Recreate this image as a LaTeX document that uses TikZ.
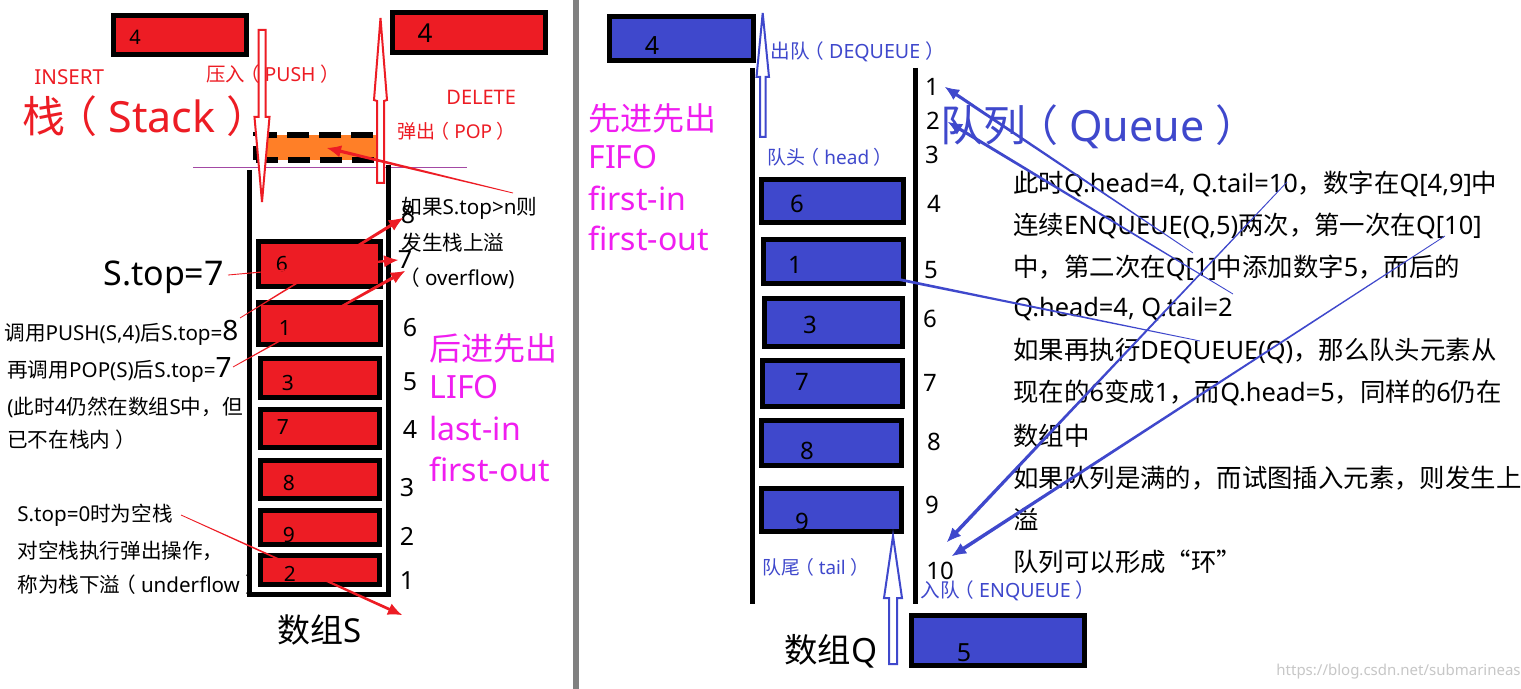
\documentclass[tikz,border=0pt]{standalone}
\usepackage{fontspec}
\usetikzlibrary{arrows.meta,calc}
\setmainfont{Noto Sans}
\newfontfamily\cjk{Noto Sans CJK SC}
\XeTeXinterchartokenstate=1
\newXeTeXintercharclass\CJKcls
\newcount\mycc
\newcommand\mysetcls[2]{\mycc=#1\relax\loop\ifnum\mycc<#2\relax\XeTeXcharclass\mycc=\CJKcls\advance\mycc by 1\repeat}
\mysetcls{"4E00}{"A000}
\mysetcls{"3000}{"3040}
\mysetcls{"FF00}{"FFF0}
\XeTeXcharclass"201C=\CJKcls
\XeTeXcharclass"201D=\CJKcls
\XeTeXinterchartoks 0 \CJKcls = {\begingroup\cjk}
\XeTeXinterchartoks 4095 \CJKcls = {\begingroup\cjk}
\XeTeXinterchartoks \CJKcls 0 = {\endgroup}
\XeTeXinterchartoks \CJKcls 4095 = {\endgroup}
\newcommand\myfs[1]{\fontsize{#1}{#1}\selectfont}
% full-width parentheses with the glyph centred in its em, as in the reference
\newcommand\LP{\kern-.25em（\kern.25em}
\newcommand\RP{\kern.25em）\kern-.25em}
\definecolor{sred}{RGB}{237,28,36}
\definecolor{sorange}{RGB}{255,127,39}
\definecolor{qblue}{RGB}{63,72,204}
\definecolor{mag}{RGB}{240,30,240}
\definecolor{purp}{RGB}{163,73,164}
\definecolor{sepgray}{RGB}{128,128,128}
% tapered arrow: #1 colour, #2 tail, #3 tip, #4 half width near tip
\newcommand\mytaper[4]{%
  \coordinate (tmpE) at ($(#3)!6pt!(#2)$);
  \fill[#1] ($(#2)!0.2pt!90:(#3)$) -- ($(tmpE)!#4!-90:(#2)$) -- ($(tmpE)!#4!90:(#2)$) -- ($(#2)!0.2pt!-90:(#3)$) -- cycle;
  \draw[#1, line width=0.4pt, -{Latex[length=7pt,width=6pt]}] (tmpE) -- (#3);}
\begin{document}
\begin{tikzpicture}[x=0.5pt,y=-0.5pt,
  t/.style={inner sep=0pt, anchor=west},
  tc/.style={inner sep=0pt, anchor=center},
  redbox/.style={draw=black, line width=2.5pt, fill=sred},
  bluebox/.style={draw=black, line width=2.5pt, fill=qblue},
  wall/.style={draw=black, line width=2.5pt},
  hollowred/.style={draw=sred, line width=1pt, fill=white},
  hollowblue/.style={draw=qblue, line width=1pt, fill=white},
  note/.style={t, font=\myfs{10.3}},
  rnote/.style={t, font=\myfs{12.7}},
  lidx/.style={tc, font=\myfs{12.5}},
  ridx/.style={tc, font=\myfs{12}},
  sdig/.style={tc, font=\myfs{10.5}},
  qdig/.style={tc, font=\myfs{12}},
  magt/.style={t, text=mag, font=\myfs{16}},
]
\useasboundingbox (0,0) rectangle (1521,689);
\fill[white] (0,0) rectangle (1521,689);
% separator
\draw[sepgray, line width=3pt] (576,0) -- (576,689);

%%%%%%%%%%%% LEFT: STACK %%%%%%%%%%%%
\draw[redbox] (113.5,15.5) rectangle (246.5,54.5);
\node[tc, font=\myfs{10}] (lin4) at (135,37) {4};
\draw[redbox] (392.5,12.5) rectangle (545.5,52.5);
\node[tc, font=\myfs{13}] (lout4) at (425,33) {4};

\node[t, text=sred, font=\myfs{10.3}] (insert) at (34,77) {INSERT};
\node[t, text=sred, font=\myfs{9.7}] (push) at (206,74) {压入\LP PUSH\RP};
\node[t, text=sred, font=\myfs{21.5}] (stack) at (22,116) {栈\LP Stack\RP};
\node[t, text=sred, font=\myfs{10}] (delete) at (446,97) {DELETE};
\node[t, text=sred, font=\myfs{9.5}] (pop) at (397,131) {弹出\LP POP\RP};

\node[draw=black, line width=3pt, dash pattern=on 11pt off 5pt, fill=sorange,
      minimum width=63pt, minimum height=12.5pt, inner sep=0pt] (slot) at (319,147.5) {};
\draw[purp, line width=0.5pt] (193,168) -- (467,168);

\draw[hollowred] (258.5,30) -- (265.5,30) -- (265.5,117) -- (269.5,117) -- (262,202) -- (254.5,117) -- (258.5,117) -- cycle;
\draw[hollowred] (377,183) -- (384,183) -- (384,101) -- (387,100) -- (380.5,18) -- (374,100) -- (377,101) -- cycle;

\draw[wall] (249,170) -- (249,594.5) -- (388,594.5) -- (388,165);

\draw[redbox] (258.5,241.5) rectangle (380.5,286.5);
\draw[redbox] (258.5,302.5) rectangle (380.5,344.5);
\draw[redbox] (260.5,358.5) rectangle (379.5,397.5);
\draw[redbox] (260.5,409.5) rectangle (379.5,447.5);
\draw[redbox] (260.5,460.5) rectangle (379.5,498.5);
\draw[redbox] (260.5,510.5) rectangle (379.5,544.5);
\draw[redbox] (260.5,555.5) rectangle (379.5,584.5);
\node[sdig] (s6) at (282,264) {6};
\node[sdig] (s1) at (285,328) {1};
\node[sdig] (s3) at (288,383) {3};
\node[sdig] (s7) at (283,427) {7};
\node[sdig] (s8) at (289,483) {8};
\node[sdig] (s9) at (289,535) {9};
\node[sdig] (s2) at (290,574) {2};

\node[lidx] (li8) at (408,215) {8};
\node[lidx] (li7) at (405,260) {7};
\node[lidx] (li6) at (410,328) {6};
\node[lidx] (li5) at (410,382) {5};
\node[lidx] (li4) at (410,430) {4};
\node[lidx] (li3) at (407,488) {3};
\node[lidx] (li2) at (407,536) {2};
\node[lidx] (li1) at (407,581) {1};

\node[note] (ovf1) at (401,208) {如果S.top>n则};
\node[note] (ovf2) at (401,243) {发生栈上溢};
\node[note] (ovf3) at (404,278) {\LP overflow)};

\node[t, font=\myfs{17}] (stop7) at (103,277) {S.top=7};
\node[note] (push8) at (4,333) {调用PUSH(S,4)后S.top={\myfs{14}8}};
\node[note] (pop7) at (7,370) {再调用POP(S)后S.top={\myfs{14}7}};
\node[note] (still1) at (7,407) {(此时4仍然在数组S中，但};
\node[note] (still2) at (7,440) {已不在栈内\RP};
\node[note] (under1) at (17,515) {S.top=0时为空栈};
\node[note] (under2) at (17,551) {对空栈执行弹出操作，};
\node[note] (under3) at (17,585) {称为栈下溢\LP underflow\RP};
\node[tc, font=\myfs{16.5}] (arrS) at (320,630) {数组S};

\node[magt] (lifo1) at (429,348) {后进先出};
\node[magt] (lifo2) at (429,387) {LIFO};
\node[magt] (lifo3) at (429,429) {last-in};
\node[magt] (lifo4) at (429,469) {first-out};

%%%%%%%%%%%% RIGHT: QUEUE %%%%%%%%%%%%
\draw[bluebox] (609.5,16.5) rectangle (753.5,60.5);
\node[qdig, font=\myfs{12.5}] (rq4) at (652,46) {4};
\draw[hollowblue] (760,137) -- (765.5,137) -- (765.5,77) -- (769,77) -- (762.7,13) -- (756.5,77) -- (760,77) -- cycle;
\node[t, text=qblue, font=\myfs{9.8}] (deq) at (770,52) {出队\LP DEQUEUE\RP};

\draw[wall] (752,68) -- (752,604);
\draw[wall] (915,68) -- (915,604);
\node[t, text=qblue, font=\myfs{9.5}] (qhead) at (767,157) {队头\LP head\RP};

\draw[bluebox] (761.5,179.5) rectangle (903.5,222.5);
\draw[bluebox] (763.5,239.5) rectangle (903.5,283.5);
\draw[bluebox] (764.5,298.5) rectangle (902.5,346.5);
\draw[bluebox] (762.5,360.5) rectangle (902.5,406.5);
\draw[bluebox] (761.5,420.5) rectangle (901.5,465.5);
\draw[bluebox] (761.5,488.5) rectangle (901.5,531.5);
\node[qdig] (q6) at (797,204) {6};
\node[qdig] (q1) at (795,265) {1};
\node[qdig] (q3) at (810,325) {3};
\node[qdig] (q7) at (802,382) {7};
\node[qdig] (q8) at (807,451) {8};
\node[qdig] (q9) at (802,522) {9};

\node[ridx] (ri1) at (932,87) {1};
\node[ridx] (ri2) at (933,121) {2};
\node[ridx] (ri3) at (932,155) {3};
\node[ridx] (ri4) at (934,204) {4};
\node[ridx] (ri5) at (931,270) {5};
\node[ridx] (ri6) at (930,319) {6};
\node[ridx] (ri7) at (930,383) {7};
\node[ridx] (ri8) at (934,442) {8};
\node[ridx] (ri9) at (932,505) {9};
\node[ridx] (ri10) at (940,571) {10};

\node[t, text=qblue, font=\myfs{9.4}] (qtail) at (762,567) {队尾\LP tail\RP};
\draw[hollowblue] (889,664) -- (897,664) -- (897,598) -- (902,598) -- (893,536) -- (884,598) -- (889,598) -- cycle;
\node[t, text=qblue, font=\myfs{9.8}] (enq) at (920,591) {入队\LP ENQUEUE\RP};
\draw[bluebox] (911.5,615.5) rectangle (1084.5,665.5);
\node[qdig, font=\myfs{12.5}] (q5) at (964,653) {5};
\node[tc, font=\myfs{16.7}] (arrQ) at (831,651) {数组Q};

\node[t, text=qblue, font=\myfs{21.5}] (queue) at (940,127) {队列\LP Queue\RP};
\node[magt] (fifo1) at (588,118) {先进先出};
\node[magt] (fifo2) at (588,157) {FIFO};
\node[magt] (fifo3) at (588,198) {first-in};
\node[magt] (fifo4) at (588,238) {first-out};

\node[rnote] (r1) at (1013,184) {此时Q.head=4, Q.tail=10，数字在Q[4,9]中};
\node[rnote] (r2) at (1013,226) {连续ENQUEUE(Q,5)两次，第一次在Q[10]};
\node[rnote] (r3) at (1013,268) {中，第二次在Q[1]中添加数字5，而后的};
\node[rnote] (r4) at (1013,309) {Q.head=4, Q.tail=2};
\node[rnote] (r5) at (1013,351) {如果再执行DEQUEUE(Q)，那么队头元素从};
\node[rnote] (r6) at (1013,393) {现在的6变成1，而Q.head=5，同样的6仍在};
\node[rnote] (r7) at (1013,436) {数组中};
\node[rnote] (r8) at (1013,478) {如果队列是满的，而试图插入元素，则发生上};
\node[rnote] (r9) at (1013,519) {溢};
\node[rnote] (r10) at (1013,562) {队列可以形成“环”};

\node[t, text=black!22, font=\myfs{7.5}] (wm) at (1276,672) {https://blog.csdn.net/submarineas};

%%%%%%%%%%%% ARROWS %%%%%%%%%%%%
\coordinate (a1s) at (513,193);
\coordinate (a1e) at (327,148);
\mytaper{sred}{a1s}{a1e}{0.8pt}
\coordinate (a2s) at (228,275);
\coordinate (a2e) at (398,260);
\mytaper{sred}{a2s}{a2e}{0.6pt}
\coordinate (a3s) at (240,318);
\coordinate (a3e) at (403,218);
\mytaper{sred}{a3s}{a3e}{0.8pt}
\coordinate (a4s) at (233,367);
\coordinate (a4e) at (405,271);
\mytaper{sred}{a4s}{a4e}{0.8pt}
\coordinate (a5s) at (181,515);
\coordinate (a5e) at (402,615);
\mytaper{sred}{a5s}{a5e}{0.7pt}

\coordinate (b1s) at (1193,253);
\coordinate (b1e) at (945,87);
\mytaper{qblue}{b1s}{b1e}{0.8pt}
\coordinate (b2s) at (1233,294);
\coordinate (b2e) at (948,122);
\mytaper{qblue}{b2s}{b2e}{0.8pt}
\coordinate (b3s) at (1200,341);
\coordinate (b3e) at (828,265);
\mytaper{qblue}{b3s}{b3e}{0.8pt}
\coordinate (b4s) at (1287,182);
\coordinate (b4e) at (947,542);
\mytaper{qblue}{b4s}{b4e}{0.9pt}
\coordinate (b5s) at (1445,236);
\coordinate (b5e) at (952,556);
\mytaper{qblue}{b5s}{b5e}{0.9pt}
\end{tikzpicture}
\end{document}
